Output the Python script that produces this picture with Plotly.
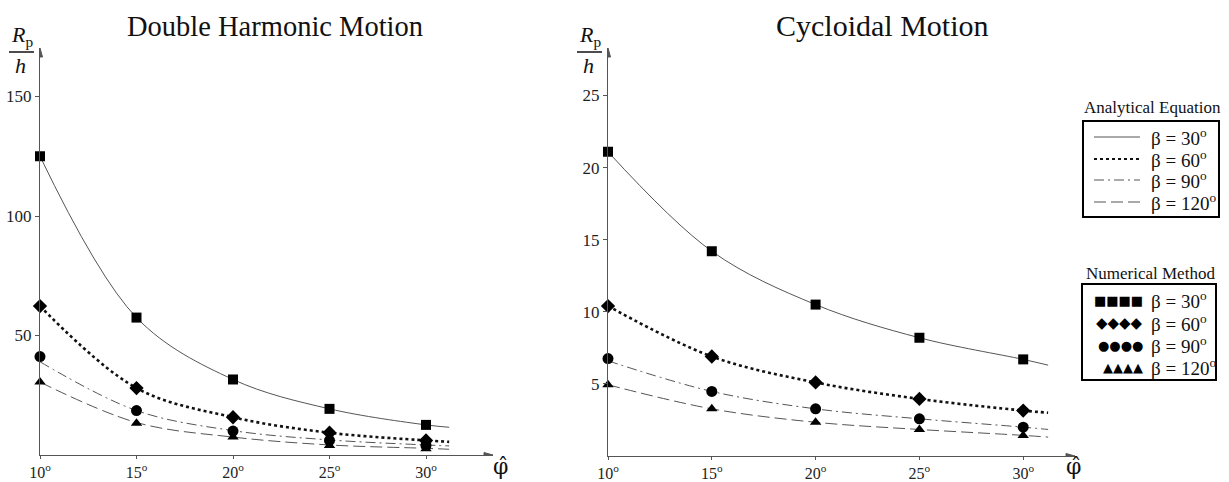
import plotly.graph_objects as go

# ---------------- data ----------------
phi = [10, 15, 20, 25, 30]
phi_curve = [10, 15, 20, 25, 30, 31.2]
phi_ticks = [10, 15, 20, 25, 30]
phi_ticktext = ["10<sup>o</sup>", "15<sup>o</sup>", "20<sup>o</sup>", "25<sup>o</sup>", "30<sup>o</sup>"]
betas = ["30", "60", "90", "120"]

# Double Harmonic Motion – numerical (markers)
dh_num_30 = [125, 57.5, 31.6, 19.3, 12.6]
dh_num_60 = [62.3, 28.0, 15.8, 9.3, 6.1]
dh_num_90 = [41.2, 18.6, 10.0, 6.1, 4.0]
dh_num_120 = [30.5, 13.3, 7.5, 4.0, 2.6]
# Double Harmonic Motion – analytical (curves)
dh_ana_30 = [125, 57.5, 31.6, 19.3, 12.6, 11.6]
dh_ana_60 = [62.3, 28.0, 15.8, 9.3, 6.1, 5.5]
dh_ana_90 = [39.0, 18.6, 10.2, 6.3, 4.2, 3.8]
dh_ana_120 = [30.5, 13.6, 7.5, 4.2, 2.8, 2.4]
dh_yticks = [50, 100, 150]

# Cycloidal Motion – numerical (markers)
cy_num_30 = [21.1, 14.2, 10.5, 8.2, 6.7]
cy_num_60 = [10.4, 6.9, 5.1, 3.96, 3.15]
cy_num_90 = [6.76, 4.48, 3.27, 2.58, 2.0]
cy_num_120 = [4.94, 3.27, 2.34, 1.84, 1.43]
# Cycloidal Motion – analytical (curves)
cy_ana_30 = [21.1, 14.2, 10.5, 8.2, 6.7, 6.3]
cy_ana_60 = [10.4, 6.9, 5.1, 3.96, 3.15, 3.0]
cy_ana_90 = [6.6, 4.48, 3.27, 2.58, 2.0, 1.84]
cy_ana_120 = [4.94, 3.27, 2.34, 1.84, 1.43, 1.31]
cy_yticks = [5, 10, 15, 20, 25]

# ---------------- styles ----------------
W, H = 1229, 482
SERIF = "Liberation Serif, Times New Roman, serif"
AX = "#555555"
line_styles = {
    "30": dict(color="#555555", width=1, dash="solid"),
    "60": dict(color="#111111", width=2.6, dash="dot"),
    "90": dict(color="#555555", width=1, dash="10px,4px,2px,4px"),
    "120": dict(color="#555555", width=1, dash="12px,5px"),
}
marker_styles = {
    "30": dict(symbol="square", size=10, color="black"),
    "60": dict(symbol="diamond", size=11, color="black"),
    "90": dict(symbol="circle", size=11, color="black"),
    "120": dict(symbol="triangle-up", size=10, color="black"),
}


def px(x):
    return x / W


def py(y):
    return 1 - y / H


fig = go.Figure()

panels = [
    ("x", "y", [dh_ana_30, dh_ana_60, dh_ana_90, dh_ana_120],
     [dh_num_30, dh_num_60, dh_num_90, dh_num_120]),
    ("x2", "y2", [cy_ana_30, cy_ana_60, cy_ana_90, cy_ana_120],
     [cy_num_30, cy_num_60, cy_num_90, cy_num_120]),
]
for xa, ya, anas, nums in panels:
    for b, a in zip(betas, anas):
        fig.add_trace(go.Scatter(x=phi_curve, y=a, mode="lines", xaxis=xa, yaxis=ya,
                                 line=dict(shape="spline", smoothing=1.0, **line_styles[b]),
                                 showlegend=False, hoverinfo="skip", cliponaxis=False))
    for b, n in zip(betas, nums):
        fig.add_trace(go.Scatter(x=phi, y=n, mode="markers", xaxis=xa, yaxis=ya,
                                 marker=marker_styles[b], showlegend=False,
                                 cliponaxis=False))

xcommon = dict(showgrid=False, zeroline=False, showline=True, linecolor=AX, linewidth=1,
               ticks="outside", ticklen=3, tickcolor=AX, tickvals=phi_ticks,
               ticktext=phi_ticktext, tickfont=dict(family=SERIF, size=16, color="#222"),
               fixedrange=True, automargin=False)
ycommon = dict(showgrid=False, zeroline=False, showline=True, linecolor=AX, linewidth=1,
               ticks="outside", ticklen=4, tickcolor=AX,
               tickfont=dict(family=SERIF, size=17, color="#222"), fixedrange=True,
               automargin=False)

L_XMAX = 10 + (493 - 40) / 19.3
L_YMAX = (455 - 48) / 2.39
R_XMAX = 10 + (1075 - 608) / 20.76
R_YMAX = (456 - 48) / 14.42

fig.update_layout(
    template="none",
    width=W, height=H, margin=dict(l=0, r=0, t=0, b=0, autoexpand=False),
    paper_bgcolor="white", plot_bgcolor="white",
    xaxis=dict(domain=[px(40), px(493)], range=[10, L_XMAX], anchor="y", **xcommon),
    yaxis=dict(domain=[py(455), py(48)], range=[0, L_YMAX], anchor="x",
               tickvals=dh_yticks, **ycommon),
    xaxis2=dict(domain=[px(608), px(1075)], range=[10, R_XMAX], anchor="y2", **xcommon),
    yaxis2=dict(domain=[py(456), py(48)], range=[0, R_YMAX], anchor="x2",
                tickvals=cy_yticks, **ycommon),
    showlegend=False,
)

ann = []
shapes = []

# axis arrowheads (pixel-sized path shapes)
for xa, ya, xmax, ymax in [("x", "y", L_XMAX, L_YMAX), ("x2", "y2", R_XMAX, R_YMAX)]:
    shapes.append(dict(type="path", xref=xa, yref=ya, xsizemode="pixel", ysizemode="pixel",
                       xanchor=xmax, yanchor=0, path="M -9,2.5 L 0,0 L -9,-2.5 Z",
                       fillcolor=AX, line=dict(color=AX, width=1)))
    shapes.append(dict(type="path", xref=xa, yref=ya, xsizemode="pixel", ysizemode="pixel",
                       xanchor=10, yanchor=ymax, path="M -2.5,-9 L 0,0 L 2.5,-9 Z",
                       fillcolor=AX, line=dict(color=AX, width=1)))


def text(x, y, t, size, family=SERIF, xanchor="center", color="#111"):
    ann.append(dict(x=px(x), y=py(y), xref="paper", yref="paper", text=t, showarrow=False,
                    xanchor=xanchor, yanchor="middle",
                    font=dict(family=family, size=size, color=color)))


# titles
text(275, 26, "Double Harmonic Motion", 28.5)
text(882, 25, "Cycloidal Motion", 30)

# R_p / h labels
for cx in (22, 590):
    text(cx, 36, "<i>R</i><sub>p</sub>", 22)
    shapes.append(dict(type="line", xref="paper", yref="paper", x0=px(cx - 13), x1=px(cx + 12),
                       y0=py(52), y1=py(52), line=dict(color="#111", width=1.5)))
    text(cx - 2, 66, "<i>h</i>", 22)

# phi-hat labels
for cx in (500, 1073):
    text(cx, 466, "\u03c6\u0302", 22, family="DejaVu Serif")

# Legend: Analytical Equation
text(1152, 108, "Analytical Equation", 17)
shapes.append(dict(type="rect", xref="paper", yref="paper", x0=px(1083), x1=px(1219),
                   y0=py(217), y1=py(121), line=dict(color="black", width=2)))
rows = [137, 159, 180, 202]
for b, ry in zip(betas, rows):
    st = line_styles[b]
    shapes.append(dict(type="line", xref="paper", yref="paper", x0=px(1094), x1=px(1140),
                       y0=py(ry), y1=py(ry),
                       line=dict(color=st["color"], width=min(st["width"], 2), dash=st["dash"])))
    text(1149, ry, f"β = {b}<sup>o</sup>", 19, xanchor="left")

# Legend: Numerical Method
text(1150, 273, "Numerical Method", 17)
shapes.append(dict(type="rect", xref="paper", yref="paper", x0=px(1082), x1=px(1216),
                   y0=py(380), y1=py(284), line=dict(color="black", width=2)))
glyphs = {"30": "■■■■", "60": "◆◆◆◆", "90": "●●●●", "120": "▲▲▲▲"}
glyph_sizes = {"30": 13, "60": 15, "90": 13, "120": 13}
rows2 = [300, 323, 345, 367]
for b, ry in zip(betas, rows2):
    text(1145, ry, glyphs[b], glyph_sizes[b], family="DejaVu Sans", xanchor="right", color="black")
    text(1149, ry, f"β = {b}<sup>o</sup>", 19, xanchor="left")

fig.update_layout(annotations=ann, shapes=shapes)
fig.write_html("out.html", config={"displayModeBar": False},
               post_script="document.body.style.margin='0';document.body.style.padding='0';")
